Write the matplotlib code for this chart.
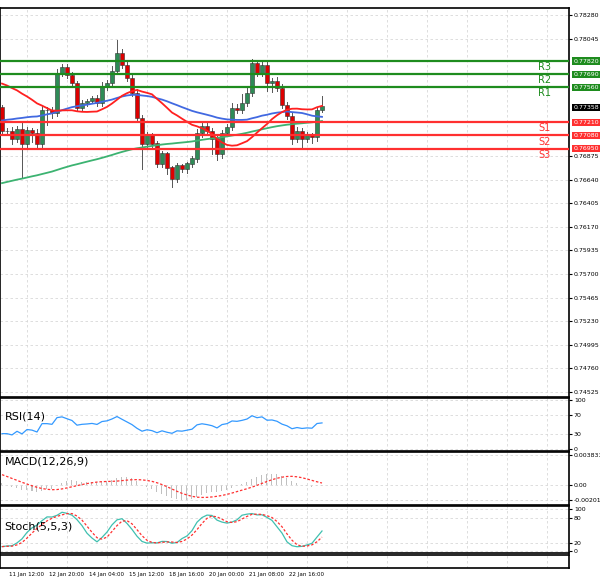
import numpy as np
import pandas as pd
import matplotlib
matplotlib.use('Agg')
import matplotlib.pyplot as plt

# H4 closes, oldest first (history before the visible window, used for the averages)
pre_closes = [0.7565, 0.7570, 0.7568, 0.7575, 0.7580, 0.7578, 0.7572, 0.7576, 0.7582, 0.7585,
              0.7580, 0.7578, 0.7584, 0.7590, 0.7588, 0.7592, 0.7586, 0.7590, 0.7595, 0.7598,
              0.7594, 0.7590, 0.7596, 0.7600, 0.7605, 0.7602, 0.7598, 0.7603, 0.7608, 0.7612,
              0.7606, 0.7600, 0.7604, 0.7610, 0.7615, 0.7612, 0.7618, 0.7622, 0.7617, 0.7613,
              0.7618, 0.7625, 0.7630, 0.7626, 0.7620, 0.7624, 0.7630, 0.7635, 0.7632, 0.7628,
              0.7634, 0.7640, 0.7636, 0.7630, 0.7635, 0.7642, 0.7646, 0.7640, 0.7645, 0.7650,
              0.7655, 0.7648, 0.7652, 0.7658, 0.7662, 0.7657, 0.7660, 0.7666, 0.7670, 0.7665,
              0.7668, 0.7675, 0.7680, 0.7676, 0.7672, 0.7678, 0.7684, 0.7688, 0.7682, 0.7678,
              0.7684, 0.7690, 0.7695, 0.7690, 0.7686, 0.7692, 0.7698, 0.7704, 0.7700, 0.7696,
              0.7702, 0.7708, 0.7714, 0.7710, 0.7706, 0.7712, 0.7720, 0.7726, 0.7730, 0.7735,
              0.7742, 0.7750, 0.7756, 0.7760, 0.7765, 0.7770, 0.7775, 0.7772, 0.7778, 0.7782,
              0.7778, 0.7774, 0.7770, 0.7766, 0.7760, 0.7755, 0.7750, 0.7745, 0.7740, 0.7736]
closes = [0.7712, 0.7712, 0.7705, 0.7714, 0.7700, 0.7713, 0.7710, 0.7700, 0.7733, 0.7733,
          0.7730, 0.7770, 0.7776, 0.7768, 0.7760, 0.7735, 0.7740, 0.7742, 0.7745, 0.7740,
          0.7756, 0.7760, 0.7772, 0.7790, 0.7778, 0.7765, 0.7750, 0.7725, 0.7700, 0.7708,
          0.7700, 0.7680, 0.7690, 0.7676, 0.7665, 0.7678, 0.7675, 0.7680, 0.7685, 0.7710,
          0.7717, 0.7712, 0.7705, 0.7690, 0.7710, 0.7716, 0.7735, 0.7733, 0.7740, 0.7750,
          0.7780, 0.7770, 0.7778, 0.7760, 0.7762, 0.7755, 0.7738, 0.7727, 0.7705, 0.7712,
          0.7705, 0.7708, 0.7706, 0.7733, 0.7737]
# wick extensions in pips above / below the body
wick_up = [2, 3, 4, 3, 8, 3, 2, 4, 4, 3, 3, 4, 3, 3, 3, 2, 3, 2, 2, 3,
           5, 3, 5, 13, 4, 3, 3, 4, 3, 3, 2, 3, 3, 2, 2, 3, 2, 2, 3, 4,
           3, 3, 3, 3, 3, 3, 5, 4, 9, 5, 4, 3, 4, 3, 3, 4, 4, 3, 3, 4,
           3, 3, 2, 3, 10]
wick_dn = [3, 4, 5, 3, 34, 4, 8, 3, 3, 15, 5, 3, 3, 3, 4, 3, 2, 3, 2, 3,
           3, 3, 3, 3, 3, 3, 3, 4, 25, 3, 3, 3, 3, 6, 8, 3, 3, 4, 3, 3,
           4, 3, 15, 6, 4, 3, 3, 3, 3, 3, 3, 3, 3, 8, 9, 3, 3, 3, 5, 3,
           10, 3, 5, 3, 2]

levels = [0.7782, 0.7769, 0.7756, 0.7721, 0.7708, 0.7695]
level_names = ['R3', 'R2', 'R1', 'S1', 'S2', 'S3']
price_ticks = [0.78280, 0.78045, 0.76875, 0.76640, 0.76405,
               0.76170, 0.75935, 0.75700, 0.75465, 0.75230, 0.74995, 0.74760, 0.74525]
date_labels = ['11 Jan 12:00', '12 Jan 20:00', '14 Jan 04:00', '15 Jan 12:00',
               '18 Jan 16:00', '20 Jan 00:00', '21 Jan 08:00', '22 Jan 16:00']
last_price = 0.77358

allc = pd.Series(pre_closes + closes)
n = len(closes)
off = len(pre_closes)
opens = np.array([pre_closes[-1]] + closes[:-1])
cl = np.array(closes)
highs = np.maximum(opens, cl) + np.array(wick_up) * 1e-4
lows = np.minimum(opens, cl) - np.array(wick_dn) * 1e-4

ma_red = allc.rolling(20).mean().values[off:]
ma_blue = allc.rolling(50).mean().values[off:]
ma_green = allc.rolling(120).mean().values[off:]

# indicators
d = allc.diff()
up = d.clip(lower=0).ewm(alpha=1/14).mean()
dn = (-d.clip(upper=0)).ewm(alpha=1/14).mean()
rsi = (100 - 100 / (1 + up / dn)).values[off:]
macd = (allc.ewm(span=12).mean() - allc.ewm(span=26).mean())
signal = macd.rolling(9).mean()
macd = macd.values[off:]; signal = signal.values[off:]
hh = pd.Series(highs).rolling(5, min_periods=1).max()
ll = pd.Series(lows).rolling(5, min_periods=1).min()
k = (((pd.Series(cl) - ll).rolling(5, min_periods=1).sum()) /
     ((hh - ll).rolling(5, min_periods=1).sum()) * 100)
dline = k.rolling(3, min_periods=1).mean()

W, H = 600, 587
fig = plt.figure(figsize=(6, 5.87), dpi=100)
fig.patch.set_facecolor('white')
xs = np.arange(n)
xlim = (-0.4, 113.4)
axw = 569 / W

def panel(top, bot):
    ax = fig.add_axes([0, 1 - bot / H, axw, (bot - top) / H])
    ax.set_xlim(*xlim)
    ax.yaxis.tick_right()
    ax.tick_params(axis='y', labelsize=4.5, length=2, pad=1.5)
    ax.tick_params(axis='x', length=0, labelbottom=False)
    ax.set_xticks(np.arange(5, 113, 8))
    ax.grid(True, color='#d8d8d8', ls=(0, (3, 3)), lw=0.6)
    for s in ax.spines.values():
        s.set_color('black'); s.set_linewidth(1.2)
    return ax

ax = panel(8, 397)
ax.set_ylim(0.74475, 0.78350)
ax.set_yticks(price_ticks)
ax.set_yticklabels(['%.5f' % t for t in price_ticks])
for i in range(n):
    c = '#2e8b57' if cl[i] >= opens[i] else '#dd0000'
    ax.plot([i, i], [lows[i], highs[i]], color='#555555', lw=0.7, zorder=2)
    ax.bar(i, abs(cl[i] - opens[i]) + 0.00003, bottom=min(cl[i], opens[i]), width=0.7,
           color=c, edgecolor='#333333', lw=0.4, zorder=3)
ax.plot(xs, ma_green, color='#3cb371', lw=1.3, zorder=4)
ax.plot(xs, ma_blue, color='#4169e1', lw=1.3, zorder=4)
ax.plot(xs, ma_red, color='#ff2020', lw=1.3, zorder=4)
for lv, nm in zip(levels, level_names):
    col = '#1e8c1e' if nm[0] == 'R' else '#ff3030'
    ax.axhline(lv, color=col, lw=1.6, zorder=5)
    ax.text(1.008, lv, '%.5f' % lv, transform=ax.get_yaxis_transform(), fontsize=4.5,
            color='white', va='center', ha='left',
            bbox=dict(boxstyle='square,pad=0.2', fc=col, ec='none'), clip_on=False)
    ax.text(108.5, lv - 0.0006, nm, color=col, fontsize=7, ha='center', va='center')
ax.text(1.008, last_price, '%.5f' % last_price, transform=ax.get_yaxis_transform(),
        fontsize=4.5, color='white', va='center', ha='left',
        bbox=dict(boxstyle='square,pad=0.2', fc='black', ec='none'), clip_on=False)

ax = panel(398, 451)
ax.set_ylim(-5, 105)
ax.set_yticks([0, 30, 70, 100])
ax.plot(xs, rsi, color='#3399ff', lw=0.9)
ax.text(0.5, 78, 'RSI(14)', fontsize=8, va='top')

ax = panel(452, 505)
ax.set_ylim(-0.0026, 0.0042)
ax.set_yticks([-0.002011, 0, 0.003833])
ax.set_yticklabels(['-0.002011', '0.00', '0.003833'])
ax.bar(xs, macd, width=0.2, color='#c0c0c0')
ax.plot(xs, signal, color='#ff3030', lw=0.9, ls=(0, (2, 1.5)))
ax.text(0.5, 0.0036, 'MACD(12,26,9)', fontsize=8, va='top')

ax = panel(506, 553)
ax.set_ylim(-5, 108)
ax.set_yticks([0, 20, 80, 100])
ax.plot(xs, k, color='#40c0b0', lw=0.9)
ax.plot(xs, dline, color='#ff3030', lw=0.9, ls=(0, (2, 1.5)))
ax.text(0.5, 70, 'Stoch(5,5,3)', fontsize=8, va='top')

ax = panel(555, 568)
ax.set_ylim(-1, 1)
ax.set_yticks([])
ax.tick_params(axis='x', labelbottom=True, labelsize=4, pad=3)
ax.set_xticklabels(date_labels + [''] * (len(ax.get_xticks()) - len(date_labels)))

fig.savefig('out.png', dpi=100)
